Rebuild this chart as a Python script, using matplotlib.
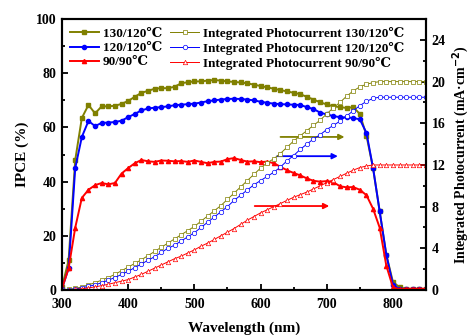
import matplotlib
matplotlib.use("Agg")
import matplotlib.pyplot as plt
from matplotlib.ticker import MultipleLocator

plt.rcParams["font.family"] = ["Liberation Serif", "DejaVu Serif", "DejaVu Sans"]
plt.rcParams["font.weight"] = "bold"
plt.rcParams["mathtext.default"] = "bf"

wavelength = list(range(300, 851, 10))

ipce_130 = [1, 11, 48, 63.5, 68.3, 65.2, 67.8, 67.8, 68, 68.7,
            69.8, 71.3, 72.8, 73.5, 74.3, 74.5, 74.5, 75, 76.3, 76.7,
            77, 77, 77.3, 77.5, 77.3, 77, 76.8, 76.6, 76.3, 75.8,
            75.3, 74.8, 74.3, 73.8, 73.3, 72.8, 72.3, 71.3, 70.3, 69.3,
            68.5, 67.8, 67.5, 67.2, 67.5, 65, 57, 45, 29, 13,
            3, 1, 0.5, 0.3, 0.3, 0.3]
ipce_120 = [0.5, 8, 45, 56.5, 62.4, 60.5, 61.7, 61.8, 62, 62.5,
            63.8, 65, 66.3, 67, 67.3, 67.5, 67.8, 68.2, 68.4, 68.6,
            68.8, 69.2, 69.7, 70, 70.3, 70.5, 70.6, 70.5, 70.3, 70,
            69.5, 69.1, 68.8, 68.6, 68.5, 68.4, 68.3, 67.5, 66.8, 65.5,
            64.8, 64.2, 63.8, 63.7, 63.5, 63, 58, 45, 29, 13,
            2, 0.3, 0.2, 0.2, 0.2, 0.2]
ipce_90 = [0.5, 8, 23, 34, 37, 38.7, 39.5, 39, 39.5, 43,
           45, 46.8, 48, 47.5, 47.3, 47.8, 47.7, 47.5, 47.6, 47.3,
           47.8, 47.3, 46.8, 47.3, 47.4, 48.3, 48.7, 48, 47.4, 47.5,
           47.2, 47.4, 46.8, 45.5, 44.2, 43.2, 42.3, 41.2, 40.3, 40,
           40.2, 39.8, 38.3, 37.9, 38, 37, 35, 30, 23, 9,
           1, 0.3, 0.5, 0.5, 0.5, 0.5]

jsc_130 = [0, 0.05, 0.15, 0.3, 0.5, 0.7, 0.95, 1.2, 1.5, 1.85,
           2.2, 2.55, 2.9, 3.3, 3.7, 4.1, 4.5, 4.9, 5.3, 5.7,
           6.1, 6.6, 7.1, 7.6, 8.1, 8.7, 9.3, 9.9, 10.5, 11.1,
           11.7, 12.2, 12.6, 13.1, 13.7, 14.3, 14.8, 15.3, 15.8, 16.3,
           16.9, 17.5, 18.0, 18.6, 19.1, 19.5, 19.75, 19.9, 20, 20,
           20, 20, 20, 20, 20, 20]
jsc_120 = [0, 0.03, 0.1, 0.2, 0.35, 0.5, 0.7, 0.95, 1.2, 1.5,
           1.8, 2.15, 2.5, 2.85, 3.2, 3.6, 4.0, 4.3, 4.7, 5.1,
           5.5, 6.0, 6.5, 7.0, 7.5, 8.0, 8.6, 9.1, 9.6, 10.1,
           10.5, 10.9, 11.3, 11.8, 12.4, 12.9, 13.5, 14.0, 14.5, 14.9,
           15.4, 15.8, 16.2, 16.7, 17.2, 17.7, 18.1, 18.4, 18.5, 18.5,
           18.5, 18.5, 18.5, 18.5, 18.5, 18.5]
jsc_90 = [0, 0.01, 0.05, 0.12, 0.2, 0.3, 0.42, 0.55, 0.7, 0.85,
          1.0, 1.25, 1.5, 1.8, 2.1, 2.4, 2.7, 3.0, 3.25, 3.55,
          3.85, 4.2, 4.5, 4.85, 5.2, 5.55, 5.9, 6.3, 6.7, 7.05,
          7.4, 7.7, 8.0, 8.3, 8.6, 8.9, 9.15, 9.4, 9.7, 10.0,
          10.3, 10.6, 10.9, 11.2, 11.5, 11.75, 11.9, 12, 12, 12,
          12, 12, 12, 12, 12, 12]

labels = ["130/120\u2103", "120/120\u2103", "90/90\u2103"]
colors = ["#808000", "#0000ff", "#ff0000"]
markers = ["s", "o", "^"]

fig = plt.figure(figsize=(4.71, 3.35), dpi=100)
ax = fig.add_axes([0.1316, 0.1343, 0.7729, 0.8087])
ax2 = ax.twinx()

handles = []
for ipce, label, color, marker in zip([ipce_130, ipce_120, ipce_90], labels, colors, markers):
    h, = ax.plot(wavelength, ipce, color=color, marker=marker, markersize=3,
                 linewidth=1.4, label=label)
    handles.append(h)

jsc_handles = []
for jsc, label, color, marker in zip([jsc_130, jsc_120, jsc_90], labels, colors, markers):
    h, = ax2.plot(wavelength, jsc, color=color, marker=marker, markersize=3.2,
                  markerfacecolor="white", markeredgewidth=0.5, linewidth=0.7,
                  label="Integrated Photocurrent " + label)
    jsc_handles.append(h)

# arrows pointing towards the right-hand axis
for (x0, x1, y), color in zip([(626, 731, 56.5), (621, 721, 49.4), (587, 708, 31)], colors):
    ax.annotate("", xy=(x1, y), xytext=(x0, y),
                arrowprops=dict(arrowstyle="-|>", color=color, lw=1.3,
                                mutation_scale=8))

ax.set_xlim(300, 850)
ax.set_ylim(0, 100)
ax2.set_ylim(0, 26)

ax.xaxis.set_major_locator(MultipleLocator(100))
ax.xaxis.set_minor_locator(MultipleLocator(50))
ax.yaxis.set_major_locator(MultipleLocator(20))
ax.yaxis.set_minor_locator(MultipleLocator(10))
ax2.yaxis.set_major_locator(MultipleLocator(4))
ax2.yaxis.set_minor_locator(MultipleLocator(2))

ax.tick_params(axis="both", which="both", direction="in", labelsize=10, width=1.3)
ax.tick_params(axis="x", pad=6)
ax.tick_params(axis="y", pad=4)
ax.tick_params(which="major", length=4)
ax.tick_params(which="minor", length=2.5)
ax2.tick_params(axis="y", which="both", direction="in", labelsize=10, width=1.3, pad=4)
ax2.tick_params(which="major", length=4)
ax2.tick_params(which="minor", length=2.5)

for spine in ax.spines.values():
    spine.set_linewidth(1.5)
for spine in ax2.spines.values():
    spine.set_linewidth(1.5)

ax.set_xlabel("Wavelength (nm)", fontsize=11, fontweight="bold", labelpad=7)
ax.set_ylabel("IPCE (%)", fontsize=11, fontweight="bold", labelpad=5)
ax2.set_ylabel("Integrated Photocurrent (mA\u00b7cm$^{-2}$)", fontsize=10,
               fontweight="bold", labelpad=3)

ax.legend(handles + jsc_handles, [h.get_label() for h in handles + jsc_handles],
          ncol=2, loc="upper left", frameon=False,
          handlelength=2.2, handletextpad=0.3, columnspacing=0.6,
          labelspacing=0.15, borderaxespad=0.2,
          prop={"weight": "bold", "size": 9.5})

fig.savefig("out.png", dpi=100)
